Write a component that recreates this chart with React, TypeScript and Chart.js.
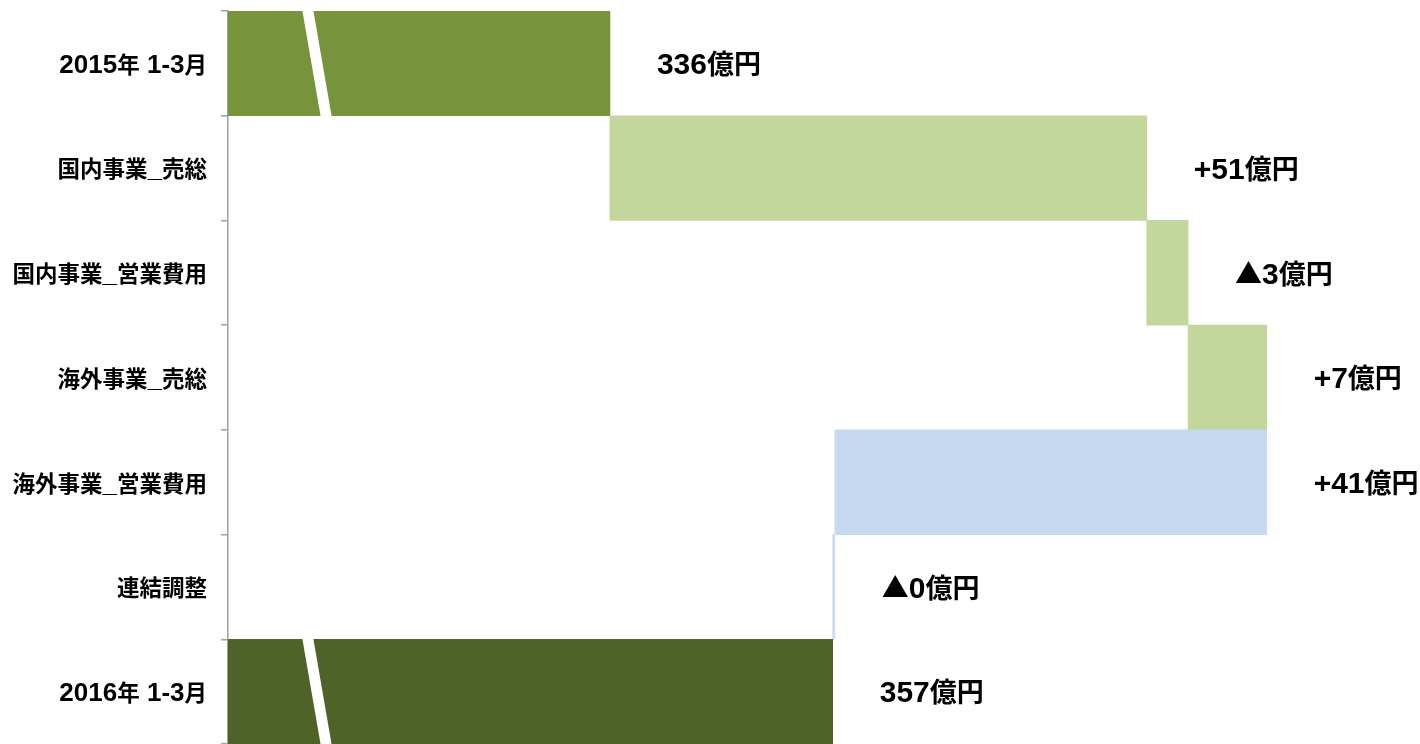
import React, { useEffect, useRef } from "react";
import { Chart, registerables } from "chart.js";

Chart.register(...registerables);

const categories = [
  "2015年 1-3月",
  "国内事業_売総",
  "国内事業_営業費用",
  "海外事業_売総",
  "海外事業_営業費用",
  "連結調整",
  "2016年 1-3月",
];
const startValue = 336.0;
const deltas = [50.6, 3.9, 7.4, -40.7, -0.2];
const endValue = 357.0;
const valueLabels = ["336億円", "+51億円", "▲3億円", "+7億円", "+41億円", "▲0億円", "357億円"];
const axisMin = 300;
const axisMax = 410;
const breakValue = 307;

const LATIN = '"Liberation Sans", Arial, sans-serif';
const CJK = '"Noto Sans CJK JP", sans-serif';

function drawMixed(
  ctx: CanvasRenderingContext2D,
  text: string,
  x: number,
  centerY: number,
  align: "left" | "right",
  latinSize: number,
  cjkSize: number
) {
  const runs: { t: string; c: boolean }[] = [];
  for (const ch of Array.from(text)) {
    const c = ch.charCodeAt(0) > 0x2000;
    const last = runs[runs.length - 1];
    if (last && last.c === c) last.t += ch;
    else runs.push({ t: ch, c });
  }
  const fontOf = (c: boolean) => (c ? `bold ${cjkSize}px ${CJK}` : `bold ${latinSize}px ${LATIN}`);
  let total = 0;
  const widths = runs.map((r) => {
    ctx.font = fontOf(r.c);
    const w = ctx.measureText(r.t).width;
    total += w;
    return w;
  });
  let cx = align === "right" ? x - total : x;
  const baseline = centerY + latinSize * 0.358;
  ctx.textAlign = "left";
  ctx.textBaseline = "alphabetic";
  runs.forEach((r, i) => {
    ctx.font = fontOf(r.c);
    ctx.fillText(r.t, cx, baseline);
    cx += widths[i];
  });
}

export default function App() {
  const ref = useRef<HTMLCanvasElement | null>(null);

  useEffect(() => {
    if (!ref.current) return;
    const bars: [number, number][] = [];
    const colors: string[] = [];
    bars.push([axisMin, startValue]);
    colors.push("#77933C");
    let cur = startValue;
    for (const d of deltas) {
      const next = cur + d;
      bars.push([cur, next]);
      colors.push(d >= 0 ? "#C3D69B" : "#C6D9F1");
      cur = next;
    }
    bars.push([axisMin, endValue]);
    colors.push("#4F6228");

    const overlay = {
      id: "overlay",
      afterDatasetsDraw(chart: any) {
        const ctx = chart.ctx;
        const meta = chart.getDatasetMeta(0);
        const xs = chart.scales.x;
        const ys = chart.scales.y;
        // broken-axis slashes
        [0, bars.length - 1].forEach((i) => {
          const el = meta.data[i];
          const top = el.y - el.height / 2;
          const bottom = el.y + el.height / 2;
          const x0 = xs.getPixelForValue(breakValue);
          const shift = 18.5 * ((bottom - top) / 105);
          ctx.save();
          ctx.fillStyle = "#ffffff";
          ctx.beginPath();
          ctx.moveTo(x0, top - 1);
          ctx.lineTo(x0 + 11, top - 1);
          ctx.lineTo(x0 + 11 + shift, bottom + 1);
          ctx.lineTo(x0 + shift, bottom + 1);
          ctx.closePath();
          ctx.fill();
          ctx.restore();
        });
        ctx.save();
        ctx.fillStyle = "#000000";
        // category labels
        categories.forEach((c, i) => {
          drawMixed(ctx, c, ys.left + ys.width - 21, ys.getPixelForValue(i), "right", 26, 22.5);
        });
        // value labels
        meta.data.forEach((el: any, i: number) => {
          const right = Math.max(xs.getPixelForValue(bars[i][0]), xs.getPixelForValue(bars[i][1]));
          drawMixed(ctx, valueLabels[i], right + 47, el.y, "left", 30, 27);
        });
        ctx.restore();
      },
    };

    const chart = new Chart(ref.current, {
      type: "bar",
      data: {
        labels: categories,
        datasets: [
          {
            data: bars as any,
            backgroundColor: colors,
            borderWidth: 0,
            categoryPercentage: 1,
            barPercentage: 1,
          },
        ],
      },
      options: {
        indexAxis: "y",
        animation: false,
        responsive: false,
        devicePixelRatio: 1,
        layout: { padding: { top: 11, right: 25, bottom: 0, left: 0 } },
        plugins: { legend: { display: false }, tooltip: { enabled: false } },
        scales: {
          x: { type: "linear", min: axisMin, max: axisMax, display: false },
          y: {
            type: "category",
            offset: true,
            afterFit: (scale: any) => {
              scale.width = 228;
              scale.paddingTop = 0;
              scale.paddingBottom = 0;
            },
            grid: {
              offset: true,
              drawOnChartArea: false,
              drawTicks: true,
              tickLength: 7,
              color: "#a0a0a0",
              lineWidth: 1.5,
            },
            border: { display: true, color: "#a0a0a0", width: 1.5 },
            ticks: { display: false },
          },
        },
      },
      plugins: [overlay],
    });
    return () => chart.destroy();
  }, []);

  return (
    <div style={{ position: "fixed", left: 0, top: 0, width: 1420, height: 744, background: "#fff" }}>
      <canvas ref={ref} width={1420} height={744} style={{ display: "block" }} />
    </div>
  );
}
